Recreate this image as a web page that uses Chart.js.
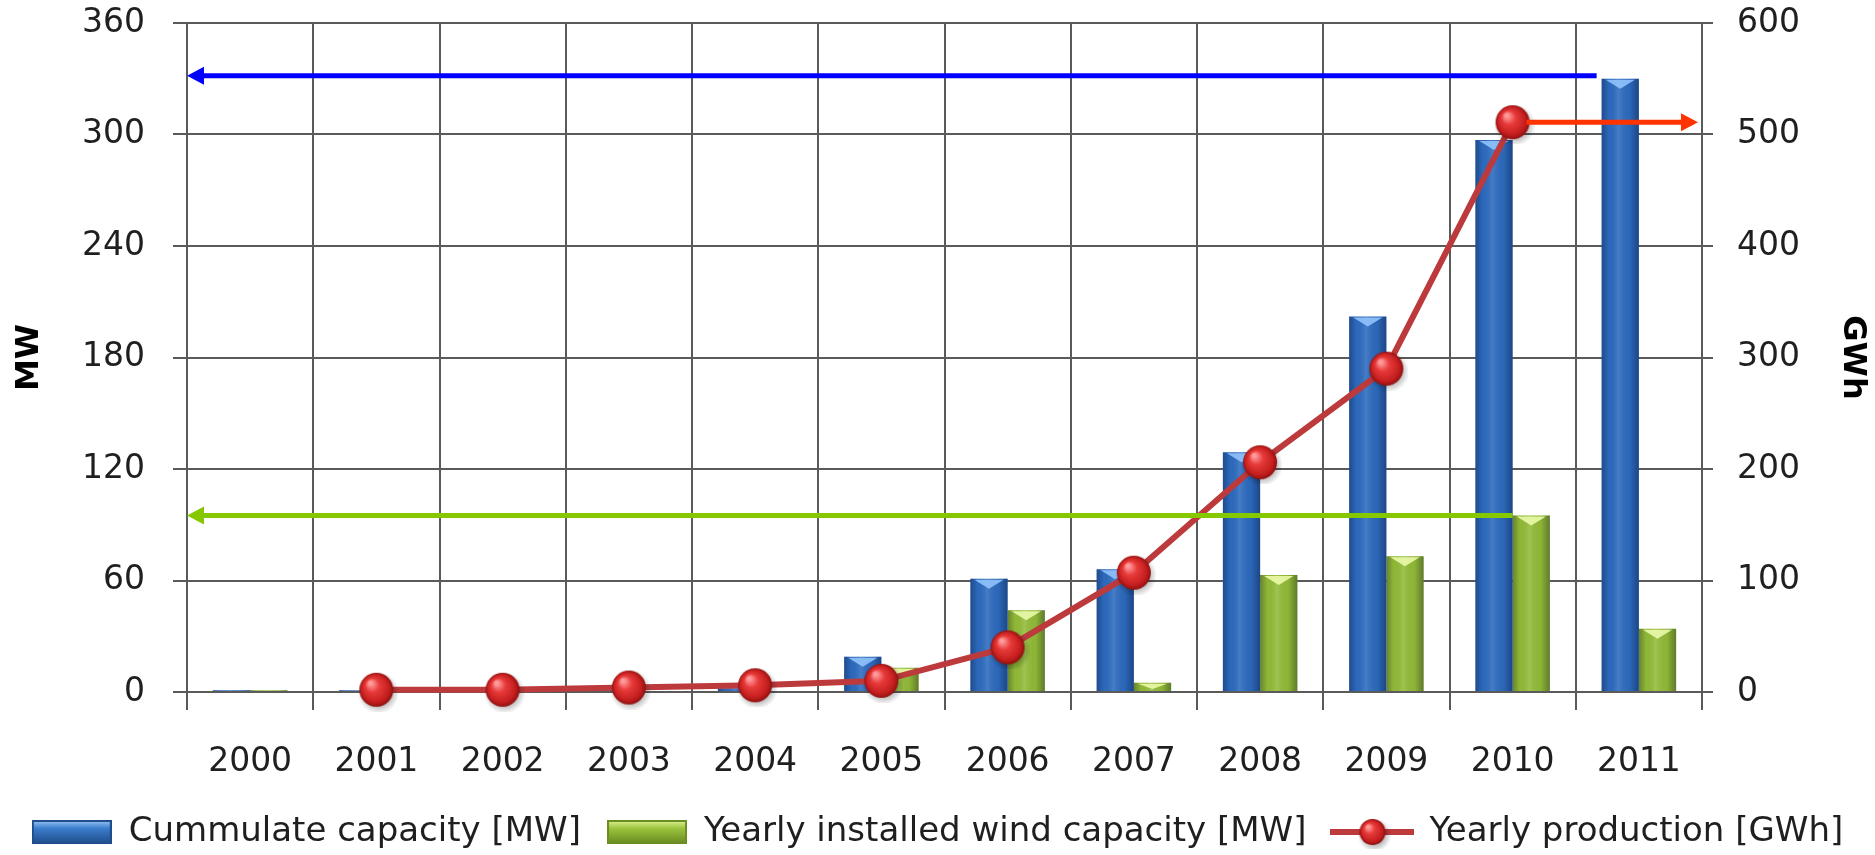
<!DOCTYPE html>
<html>
<head>
<meta charset="utf-8">
<script src="https://cdn.jsdelivr.net/npm/chart.js@4.4.1/dist/chart.umd.min.js"></script>
<style>
  html, body { margin: 0; padding: 0; background: #ffffff; }
  #wrap { width: 1875px; height: 855px; }
</style>
</head>
<body>
<div id="wrap"><canvas id="c" width="1875" height="855"></canvas></div>
<script>
// ---- data ----
const years = ['2000','2001','2002','2003','2004','2005','2006','2007','2008','2009','2010','2011'];
const cumulativeMW = [1, 1, 1, 1, 2, 19, 61, 66, 129, 202, 297, 330];
const installedMW  = [1, 0, 0, 0, 0, 13, 44, 5, 63, 73, 95, 34];
const productionGWh = [null, 2, 2, 4, 6, 10, 40, 107, 206, 290, 511, null];
const seriesNames = ['Cummulate capacity [MW]', 'Yearly installed wind capacity [MW]', 'Yearly production [GWh]'];
const mwAxis = { min: 0, max: 360, step: 60, title: 'MW' };
const gwhAxis = { min: 0, max: 600, step: 100, title: 'GWh' };

// ---- styling helpers ----
const FONT = "'DejaVu Sans', sans-serif";
const TEXT = '#1f1f1f';
const GRID = '#5a5a5a';
const BLUE = '#2D6BC0';
const GREEN = '#93BC38';
const LINE = '#BD3A3C';

function makeSphere(r) {
  const pad = 5;
  const s = 2 * r + pad * 2;
  const c = document.createElement('canvas');
  c.width = s; c.height = s;
  const g = c.getContext('2d');
  const cx = s / 2, cy = s / 2;
  const sh = g.createRadialGradient(cx + 2, cy + 3, r * 0.6, cx + 2, cy + 3, r + 4);
  sh.addColorStop(0, 'rgba(0,0,0,0.35)');
  sh.addColorStop(1, 'rgba(0,0,0,0)');
  g.fillStyle = sh;
  g.beginPath(); g.arc(cx + 2, cy + 3, r + 4, 0, Math.PI * 2); g.fill();
  const rg = g.createRadialGradient(cx - r * 0.35, cy - r * 0.4, r * 0.1, cx, cy, r);
  rg.addColorStop(0, '#FF9A9A');
  rg.addColorStop(0.35, '#E83A3A');
  rg.addColorStop(0.8, '#C41E1E');
  rg.addColorStop(1, '#8E1010');
  g.fillStyle = rg;
  g.beginPath(); g.arc(cx, cy, r, 0, Math.PI * 2); g.fill();
  return c;
}

function makeBarIcon(top, mid, bot, edge) {
  const c = document.createElement('canvas');
  c.width = 80; c.height = 24;
  const g = c.getContext('2d');
  const lg = g.createLinearGradient(0, 0, 0, 24);
  lg.addColorStop(0, top); lg.addColorStop(0.35, mid); lg.addColorStop(1, bot);
  g.fillStyle = lg; g.fillRect(0, 0, 80, 24);
  g.strokeStyle = edge; g.lineWidth = 2; g.strokeRect(1, 1, 78, 22);
  return c;
}

function makeLineIcon() {
  const c = document.createElement('canvas');
  c.width = 84; c.height = 34;
  const g = c.getContext('2d');
  g.strokeStyle = LINE; g.lineWidth = 6;
  g.beginPath(); g.moveTo(0, 17); g.lineTo(84, 17); g.stroke();
  const sp = makeSphere(13);
  g.drawImage(sp, 42 - sp.width / 2, 17 - sp.height / 2);
  return c;
}

const sphere = makeSphere(17);
const legendIcons = [
  makeBarIcon('#9CCBF7', '#3C7DCC', '#1E4C88', '#1F4E8C'),
  makeBarIcon('#E2F59A', '#9CC43E', '#67891F', '#6B8E22'),
  makeLineIcon()
];

const barShading = {
  id: 'barShading',
  afterDatasetDraw(chart, args) {
    const meta = args.meta;
    if (meta.type !== 'bar') return;
    const ctx = chart.ctx;
    const capColor = args.index === 0 ? 'rgba(150,200,255,0.85)' : 'rgba(235,250,170,0.9)';
    ctx.save();
    meta.data.forEach(el => {
      const p = el.getProps(['x', 'y', 'base', 'width'], true);
      const l = p.x - p.width / 2, r = p.x + p.width / 2, h = p.base - p.y;
      if (h < 0.5) return;
      const g = ctx.createLinearGradient(l, 0, r, 0);
      g.addColorStop(0, 'rgba(0,0,30,0.30)');
      g.addColorStop(0.2, 'rgba(0,0,0,0.02)');
      g.addColorStop(0.45, 'rgba(255,255,255,0.12)');
      g.addColorStop(0.75, 'rgba(0,0,0,0.04)');
      g.addColorStop(1, 'rgba(0,0,30,0.35)');
      ctx.fillStyle = g;
      ctx.fillRect(l, p.y, p.width, h);
      if (h > 8) {
        ctx.fillStyle = capColor;
        ctx.beginPath();
        ctx.moveTo(l + 4, p.y + 1);
        ctx.lineTo(r - 4, p.y + 1);
        ctx.lineTo(p.x, p.y + Math.min(10, h - 2));
        ctx.closePath();
        ctx.fill();
      }
    });
    ctx.restore();
  }
};

function arrow(ctx, x1, y, x2, color) {
  const dir = Math.sign(x2 - x1);
  const head = 17, half = 9;
  ctx.save();
  ctx.strokeStyle = color; ctx.fillStyle = color; ctx.lineWidth = 5;
  ctx.beginPath(); ctx.moveTo(x1, y); ctx.lineTo(x2 - dir * head, y); ctx.stroke();
  ctx.beginPath();
  ctx.moveTo(x2, y);
  ctx.lineTo(x2 - dir * head, y - half);
  ctx.lineTo(x2 - dir * head, y + half);
  ctx.closePath(); ctx.fill();
  ctx.restore();
}

const arrows = {
  id: 'arrows',
  afterDatasetsDraw(chart) {
    const ctx = chart.ctx, a = chart.chartArea;
    const yL = chart.scales.y, yR = chart.scales.y1;
    const b = chart.getDatasetMeta(0).data[11].getProps(['x', 'width'], true);
    arrow(ctx, b.x - b.width / 2 - 5, yL.getPixelForValue(cumulativeMW[11]) - 3, a.left, '#0000FF');
    const gEl = chart.getDatasetMeta(1).data[10].getProps(['x', 'width'], true);
    arrow(ctx, gEl.x - gEl.width / 2, yL.getPixelForValue(installedMW[10]), a.left, '#86C800');
    const rEl = chart.getDatasetMeta(2).data[10].getProps(['x'], true);
    arrow(ctx, rEl.x + 14, yR.getPixelForValue(productionGWh[10]), a.right - 4, '#FF3300');
  }
};

const tickFont = { family: FONT, size: 33 };
const titleFont = { family: FONT, size: 32, weight: 'bold' };

function fixVertical(width) {
  return s => { s.width = width; s.paddingTop = 23; s.paddingBottom = 0; };
}

new Chart(document.getElementById('c'), {
  data: {
    labels: years,
    datasets: [
      { type: 'bar', label: seriesNames[0], data: cumulativeMW, backgroundColor: BLUE, yAxisID: 'y', order: 1,
        categoryPercentage: 0.59, barPercentage: 1.0 },
      { type: 'bar', label: seriesNames[1], data: installedMW, backgroundColor: GREEN, yAxisID: 'y', order: 1,
        categoryPercentage: 0.59, barPercentage: 1.0 },
      { type: 'line', label: seriesNames[2], data: productionGWh, yAxisID: 'y1', order: 0,
        borderColor: LINE, borderWidth: 6, tension: 0, clip: false, spanGaps: false,
        pointStyle: sphere, pointRadius: 17, pointHoverRadius: 17 }
    ]
  },
  options: {
    responsive: false,
    devicePixelRatio: 1,
    animation: false,
    layout: { padding: { top: 0, bottom: -4, left: 0, right: 0 } },
    plugins: {
      tooltip: { enabled: false },
      legend: {
        position: 'bottom',
        labels: {
          usePointStyle: true,
          pointStyleWidth: 80,
          padding: 26,
          color: TEXT,
          font: { family: FONT, size: 34 },
          generateLabels: () => seriesNames.map((t, i) => ({
            text: t, pointStyle: legendIcons[i], datasetIndex: i, hidden: false,
            fontColor: TEXT, fillStyle: 'transparent', strokeStyle: 'transparent', lineWidth: 0
          }))
        }
      }
    },
    scales: {
      x: {
        type: 'category',
        offset: true,
        grid: { offset: true, color: GRID, lineWidth: 2, tickLength: 18, drawTicks: true },
        border: { display: true, color: GRID, width: 2 },
        ticks: { font: tickFont, color: TEXT, padding: 33, maxRotation: 0 },
        afterFit: s => { s.height = 97; }
      },
      y: {
        position: 'left',
        min: mwAxis.min, max: mwAxis.max,
        ticks: { stepSize: mwAxis.step, font: tickFont, color: TEXT, padding: 28 },
        grid: { color: GRID, lineWidth: 2, tickLength: 14 },
        border: { display: true, color: GRID, width: 2 },
        title: { display: true, text: mwAxis.title, font: titleFont, color: '#000', padding: { top: 10, bottom: 0 } },
        afterFit: fixVertical(187)
      },
      y1: {
        position: 'right',
        min: gwhAxis.min, max: gwhAxis.max,
        ticks: { stepSize: gwhAxis.step, font: tickFont, color: TEXT, padding: 24 },
        grid: { drawOnChartArea: false, color: GRID, lineWidth: 2, tickLength: 11 },
        border: { display: true, color: GRID, width: 2 },
        title: { display: true, text: gwhAxis.title, font: titleFont, color: '#000', padding: { top: 3, bottom: 0 } },
        afterFit: fixVertical(173)
      }
    }
  },
  plugins: [barShading, arrows]
});
</script>
</body>
</html>
